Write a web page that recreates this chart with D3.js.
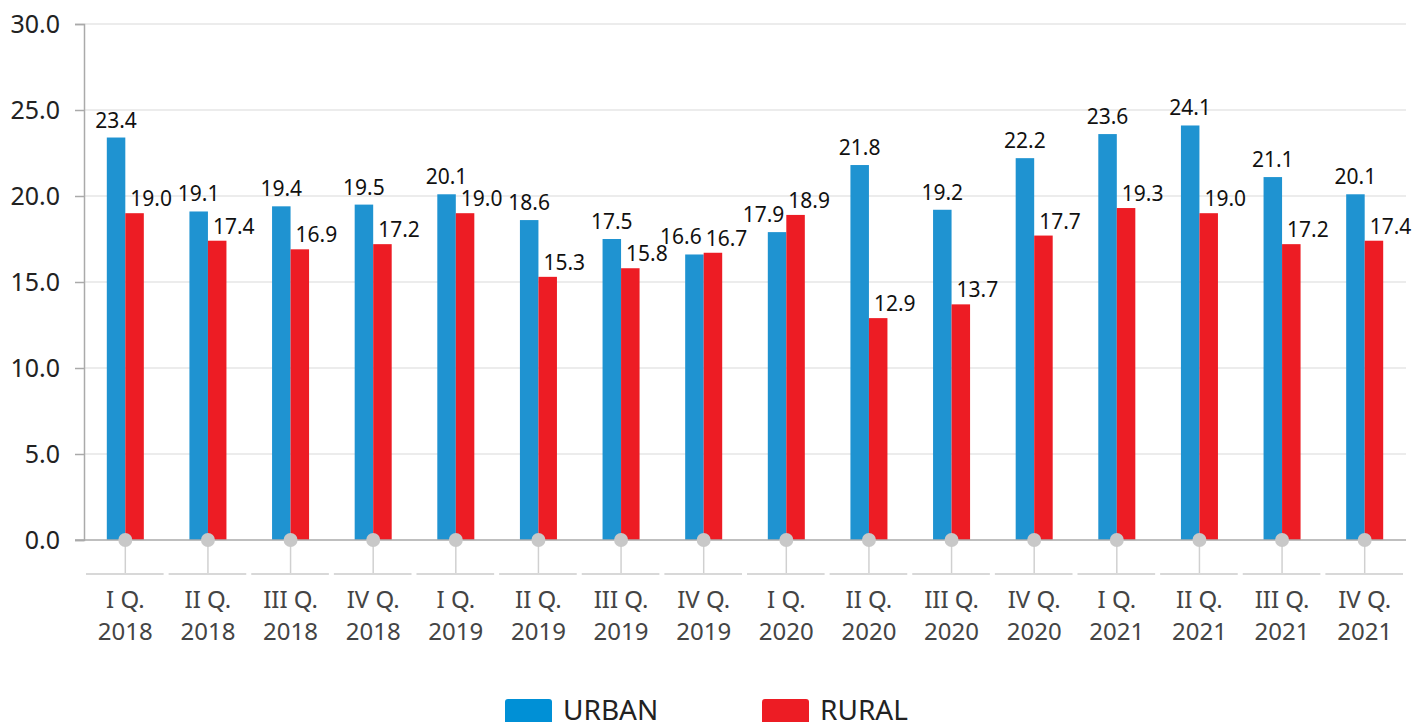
<!DOCTYPE html>
<html>
<head>
<meta charset="utf-8">
<script src="https://cdn.jsdelivr.net/npm/d3@7"></script>
<style>
  html, body { margin: 0; padding: 0; background: #fff; }
  svg { display: block; font-family: "Noto Sans", "Open Sans", sans-serif; }
</style>
</head>
<body>
<div id="chart"></div>
<script>
// Chart data
const quarters = ["I Q.", "II Q.", "III Q.", "IV Q.", "I Q.", "II Q.", "III Q.", "IV Q.",
                  "I Q.", "II Q.", "III Q.", "IV Q.", "I Q.", "II Q.", "III Q.", "IV Q."];
const years = ["2018", "2018", "2018", "2018", "2019", "2019", "2019", "2019",
               "2020", "2020", "2020", "2020", "2021", "2021", "2021", "2021"];
const urban = [23.4, 19.1, 19.4, 19.5, 20.1, 18.6, 17.5, 16.6, 17.9, 21.8, 19.2, 22.2, 23.6, 24.1, 21.1, 20.1];
const rural = [19.0, 17.4, 16.9, 17.2, 19.0, 15.3, 15.8, 16.7, 18.9, 12.9, 13.7, 17.7, 19.3, 19.0, 17.2, 17.4];
const yTicks = [0, 5, 10, 15, 20, 25, 30];
const seriesNames = ["URBAN", "RURAL"];
const seriesColors = ["#1f93d1", "#ed1c24"];

const width = 1421, height = 722;
const plot = { left: 84, right: 1406, top: 24, bottom: 540 };

const svg = d3.select('#chart').append('svg')
    .attr('width', width)
    .attr('height', height);

const x = d3.scaleBand()
    .domain(d3.range(quarters.length))
    .range([plot.left, plot.right]);

const y = d3.scaleLinear()
    .domain([0, 30])
    .range([plot.bottom, plot.top]);

const barW = x.bandwidth() * 0.224;

// grid lines
svg.append('g')
    .selectAll('line')
    .data(yTicks.filter(d => d > 0))
    .enter().append('line')
    .attr('x1', plot.left).attr('x2', plot.right)
    .attr('y1', d => y(d)).attr('y2', d => y(d))
    .attr('stroke', '#e6e6e6')
    .attr('stroke-width', 1.5);

// y axis
const yAxis = svg.append('g')
    .attr('transform', `translate(${plot.left},0)`)
    .call(d3.axisLeft(y).tickValues(yTicks).tickFormat(d3.format('.1f')).tickSize(9).tickPadding(15));
yAxis.select('.domain').attr('stroke', '#aaa').attr('stroke-width', 1.5);
yAxis.selectAll('.tick line').attr('stroke', '#aaa').attr('stroke-width', 1.5);
yAxis.selectAll('.tick text')
    .attr('font-size', 25)
    .attr('fill', '#222')
    .attr('font-family', '"Noto Sans", sans-serif');

// bars
const groups = svg.append('g')
    .selectAll('g')
    .data(d3.range(quarters.length))
    .enter().append('g');

groups.append('rect')
    .attr('x', i => x(i) + x.bandwidth() / 2 - barW)
    .attr('y', i => y(urban[i]))
    .attr('width', barW)
    .attr('height', i => y(0) - y(urban[i]))
    .attr('fill', seriesColors[0]);

groups.append('rect')
    .attr('x', i => x(i) + x.bandwidth() / 2)
    .attr('y', i => y(rural[i]))
    .attr('width', barW)
    .attr('height', i => y(0) - y(rural[i]))
    .attr('fill', seriesColors[1]);

// baseline
svg.append('line')
    .attr('x1', plot.left - 9).attr('x2', plot.right)
    .attr('y1', y(0)).attr('y2', y(0))
    .attr('stroke', '#aaa')
    .attr('stroke-width', 1.5);

// value labels (nudge apart when they'd collide)
const close = i => Math.abs((y(urban[i]) - 10) - (y(rural[i]) - 7)) < 16;

groups.append('text')
    .attr('x', i => close(i) ? x(i) + x.bandwidth() / 2 - 2 : x(i) + x.bandwidth() / 2 - barW / 2)
    .attr('y', i => y(urban[i]) - 10)
    .attr('text-anchor', i => close(i) ? 'end' : 'middle')
    .attr('font-size', 21)
    .attr('fill', '#111')
    .text(i => urban[i].toFixed(1));

groups.append('text')
    .attr('x', i => close(i) ? x(i) + x.bandwidth() / 2 + 2 : x(i) + x.bandwidth() / 2 + 5)
    .attr('y', i => y(rural[i]) - 7)
    .attr('text-anchor', 'start')
    .attr('font-size', 21)
    .attr('fill', '#111')
    .text(i => rural[i].toFixed(1));

// category markers
const cat = svg.append('g')
    .selectAll('g')
    .data(d3.range(quarters.length))
    .enter().append('g')
    .attr('transform', i => `translate(${x(i) + x.bandwidth() / 2},0)`);

cat.append('line')
    .attr('x1', 0).attr('x2', 0)
    .attr('y1', y(0)).attr('y2', 573)
    .attr('stroke', '#d0d0d0')
    .attr('stroke-width', 1.5);

cat.append('line')
    .attr('x1', -x.bandwidth() / 2 + 2).attr('x2', x.bandwidth() / 2 - 3)
    .attr('y1', 574).attr('y2', 574)
    .attr('stroke', '#d8d8d8')
    .attr('stroke-width', 2);

cat.append('circle')
    .attr('cx', 0).attr('cy', y(0))
    .attr('r', 7)
    .attr('fill', '#c8c8c8');

cat.append('text')
    .attr('y', 608)
    .attr('text-anchor', 'middle')
    .attr('font-size', 24)
    .attr('fill', '#444')
    .text(i => quarters[i]);

cat.append('text')
    .attr('y', 640)
    .attr('text-anchor', 'middle')
    .attr('font-size', 24)
    .attr('fill', '#444')
    .text(i => years[i]);

// legend
const legendX = [505, 762];
const legend = svg.append('g')
    .selectAll('g')
    .data(seriesNames)
    .enter().append('g')
    .attr('transform', (d, i) => `translate(${legendX[i]},699)`);

legend.append('rect')
    .attr('width', 47)
    .attr('height', 34)
    .attr('rx', 3)
    .attr('fill', (d, i) => i === 0 ? '#0090d6' : seriesColors[1]);

legend.append('text')
    .attr('x', 58)
    .attr('y', 21)
    .attr('font-size', 28)
    .attr('fill', '#222')
    .text(d => d);
</script>
</body>
</html>
